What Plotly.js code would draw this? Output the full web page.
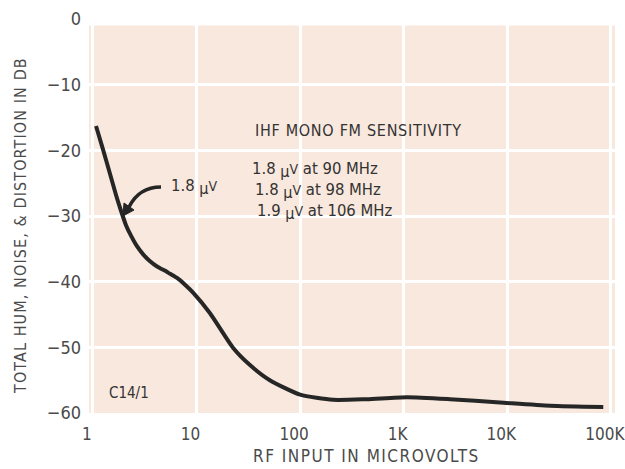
<!DOCTYPE html>
<html>
<head>
<meta charset="utf-8">
<script src="https://cdn.plot.ly/plotly-3.0.1.min.js"></script>
<style>html,body{margin:0;padding:0;background:#fff;}#chart{width:625px;height:469px;}</style>
</head>
<body>
<div id="chart"></div>
<script>
// Data (RF input in microvolts vs total hum, noise & distortion in dB)
const rfInput = [1.071, 1.252, 1.463, 1.67, 1.866, 2.085, 2.33, 2.66, 3.04, 3.56, 4.16, 4.78, 5.55, 6.44, 7.79, 9.31, 13.5, 22.6, 32.8, 51, 100, 208, 440, 1070, 2800, 8500, 25900, 84500];
const thdDb   = [-16.3, -19.9, -23.6, -26.8, -29.2, -31.4, -33.0, -34.6, -35.8, -36.9, -37.7, -38.2, -38.8, -39.4, -40.5, -41.7, -44.8, -50.1, -52.7, -55.0, -57.2, -58.0, -57.9, -57.6, -57.9, -58.4, -58.9, -59.1];
const xTickVals = [1, 10, 100, 1000, 10000, 100000];
const xTickText = ["1", "10", "100", "1K", "10K", "100K"];
const yTickVals = [-60, -50, -40, -30, -20, -10, 0];

const W = 625, H = 469;
const M = {l: 89, r: 10, t: 19, b: 56};
const PW = W - M.l - M.r, PH = H - M.t - M.b;
const px = x => (x - M.l) / PW;
const py = y => (H - M.b - y) / PH;
const P = (x, y) => px(x).toFixed(4) + ',' + py(y).toFixed(4);

const font = "'DejaVu Sans Condensed', 'DejaVu Sans', sans-serif";
const ink = '#4a4a4a';
const ink2 = '#333333';
const uv = '<sub><span style="font-size:16px">μ</span></sub><span style="font-size:14px">V</span>';
const ls = (s, n) => '<span style="letter-spacing:' + n + 'px">' + s + '</span>';

const trace = {
  x: rfInput, y: thdDb, type: 'scatter', mode: 'lines',
  line: {color: '#262626', width: 4, shape: 'spline', smoothing: 0.6},
  hoverinfo: 'skip'
};

function note(x, y, text, size, color, extra) {
  return Object.assign({xref: 'paper', yref: 'paper', x: px(x), y: py(y), text: text,
    xanchor: 'left', yanchor: 'middle', showarrow: false,
    font: {family: font, size: size, color: color}}, extra || {});
}

const layout = {
  width: W, height: H,
  margin: M,
  paper_bgcolor: '#ffffff',
  plot_bgcolor: 'rgba(0,0,0,0)',
  showlegend: false,
  font: {family: font, color: ink, size: 16},
  xaxis: {
    type: 'log', range: [-0.038, 5.04],
    tickvals: xTickVals, ticktext: xTickText,
    showgrid: true, gridcolor: '#ffffff', gridwidth: 3,
    zeroline: false, showline: false, ticks: '',
    ticklabelstandoff: 9, ticklabelshift: -6, ticklabeloverflow: 'allow',
    tickfont: {family: font, size: 17, color: ink}
  },
  yaxis: {
    range: [-60, 0], tickvals: yTickVals,
    showgrid: true, gridcolor: '#ffffff', gridwidth: 3,
    zeroline: false, showline: false, ticks: '',
    ticklabelstandoff: 7,
    tickfont: {family: font, size: 18, color: ink}
  },
  shapes: [
    {type: 'rect', xref: 'paper', yref: 'y', x0: 0, x1: 1, y0: -60, y1: -1,
     fillcolor: '#f9e8dd', line: {width: 0}, layer: 'below'},
    {type: 'path', xref: 'paper', yref: 'paper',
     path: 'M' + P(161, 187) + ' Q' + P(139, 187) + ' ' + P(129, 207),
     line: {color: '#262626', width: 3.5}},
    {type: 'path', xref: 'paper', yref: 'paper',
     path: 'M' + P(123, 216) + ' L' + P(124, 203) + ' L' + P(134, 210) + ' Z',
     fillcolor: '#262626', line: {color: '#262626', width: 1}}
  ],
  annotations: [
    note(20, 226, ls('TOTAL HUM, NOISE, &amp; DISTORTION IN DB', 1.1), 16, ink, {textangle: -90, xanchor: 'center'}),
    note(366, 456, ls('RF INPUT IN MICROVOLTS', 1.5), 17, ink, {xanchor: 'center'}),
    note(253, 130, ls('IHF MONO FM SENSITIVITY', 0.7), 16, ink2),
    note(250, 170, '1.8 ' + uv + ' at 90 MHz', 16.5, ink2),
    note(253, 191, '1.8 ' + uv + ' at 98 MHz', 16.5, ink2),
    note(255, 212, '1.9 ' + uv + ' at 106 MHz', 16.5, ink2),
    note(169, 187, '1.8 ' + uv, 16.5, ink2),
    note(107, 393, 'C14/1', 15, ink2)
  ]
};

Plotly.newPlot('chart', [trace], layout, {staticPlot: true, displayModeBar: false});
</script>
</body>
</html>
